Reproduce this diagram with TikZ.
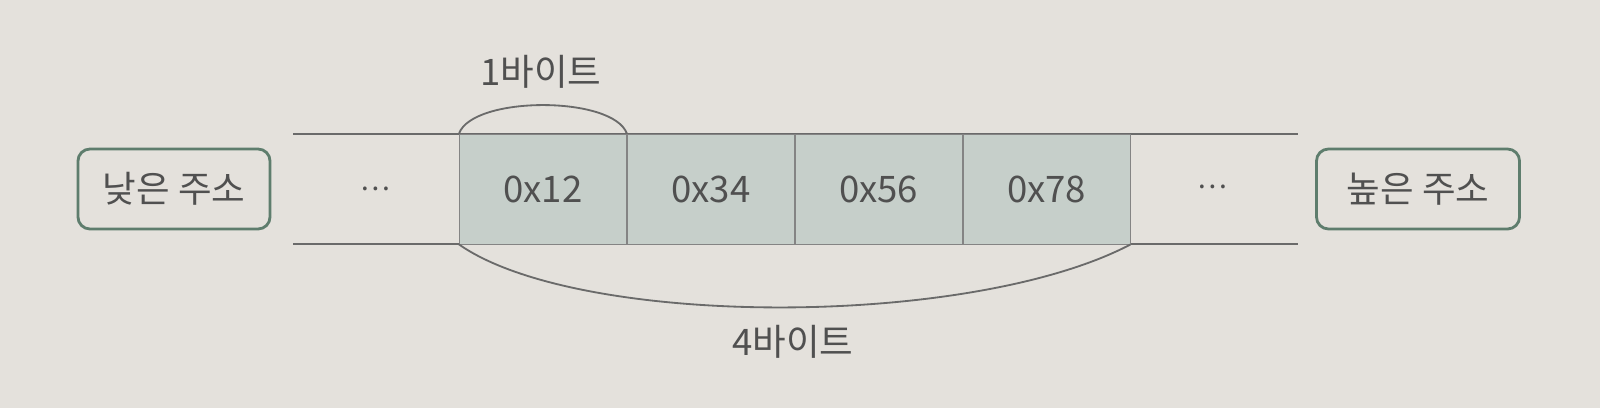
\documentclass[tikz,border=0pt]{standalone}
\usepackage{fontspec}
\setmainfont{Noto Sans CJK KR}
\usepackage{xcolor}
\usetikzlibrary{calc}

\definecolor{paper}{HTML}{E4E1DC}
\definecolor{cellfill}{HTML}{C6CFCA}
\definecolor{boxline}{HTML}{5E7D6D}
\definecolor{ink}{HTML}{505050}

\begin{document}
\begin{tikzpicture}[x=0.025cm,y=-0.025cm,
		cell/.style={rectangle,draw=ink!70,line width=0.6pt,fill=cellfill,minimum width=4.175cm,minimum height=2.75cm,inner sep=0pt,anchor=west,text=ink},
		addr/.style={rounded corners=3mm,rectangle,draw=boxline,line width=2pt,minimum height=2cm,text=ink},
		rail/.style={draw=ink!85,line width=1.3pt}]
		\useasboundingbox [fill=paper] (0,0) rectangle (1600,408);
		\fontsize{26pt}{30pt}\selectfont

		%elements
		\node [addr, minimum width=4.8cm] at (174,189) (low) {낮은 주소};
		\node [addr, minimum width=5.075cm] at (1418,189) (high) {높은 주소};

		\coordinate (railtl) at (293,134);
		\coordinate (railtr) at (1298,134);
		\coordinate (railbl) at (293,244);
		\coordinate (railbr) at (1298,244);
		\draw [rail] (railtl) -- (railtr);
		\draw [rail] (railbl) -- (railbr);

		\node [cell] at (459,189) (b12) {0x12};
		\node [cell] at (b12.east) (b34) {0x34};
		\node [cell] at (b34.east) (b56) {0x56};
		\node [cell] at (b56.east) (b78) {0x78};

		\node [text=ink, font=\fontsize{20pt}{24pt}\selectfont] at (375,189) (dotsl) {…};
		\node [text=ink, font=\fontsize{20pt}{24pt}\selectfont] at (1212,187) (dotsr) {…};

		%text
		\node [text=ink] at (541,72) (onebyte) {1바이트};
		\node [text=ink] at (793,342) (fourbyte) {4바이트};

		\draw [rail] (b12.north west) .. controls ($(b12.north west)+(14,-38)$) and ($(b12.north east)+(-14,-38)$) .. (b12.north east);
		\draw [rail] (b12.south west) .. controls ($(b12.south west)+(120,84)$) and ($(b78.south east)+(-160,84)$) .. (b78.south east);
\end{tikzpicture}
\end{document}
